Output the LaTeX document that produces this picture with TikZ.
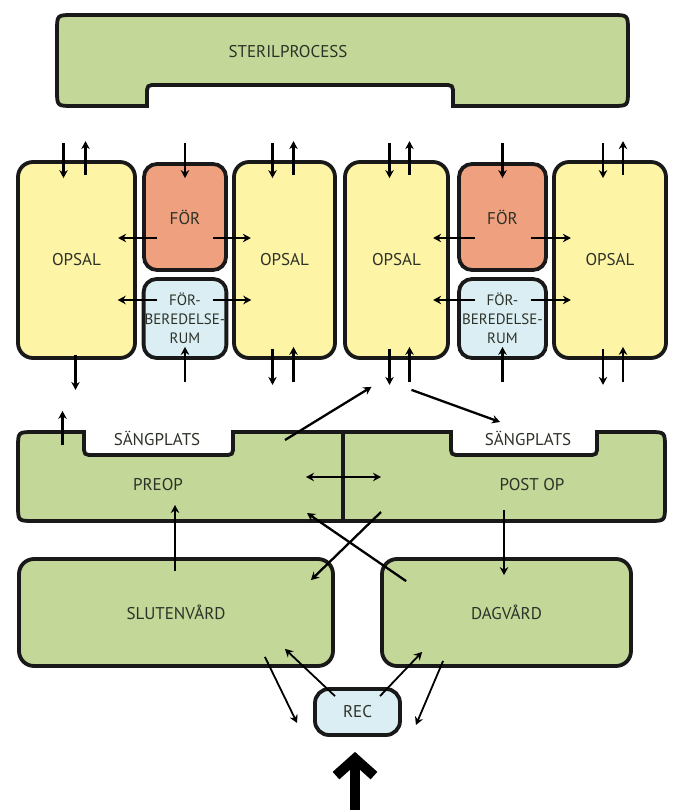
\documentclass[tikz,border=0pt]{standalone}
\usepackage{fontspec}
\setmainfont{PT Sans}
\usepackage{xcolor}
\definecolor{leafgreen}{RGB}{195,216,152}
\definecolor{paleyellow}{RGB}{253,244,166}
\definecolor{salmon}{RGB}{238,160,127}
\definecolor{iceblue}{RGB}{219,238,243}
\definecolor{inkgrey}{RGB}{45,50,40}
\usepackage{tikz}
\usetikzlibrary{arrows.meta,calc}
\tikzset{
  >={Stealth[length=8pt,width=8.5pt]},
  wall/.style={draw=black!90,line width=3.8pt},
  room/.style={wall,rectangle,rounded corners=15pt,font=\fontsize{17}{19}\selectfont,text=inkgrey},
  opsal/.style={room,fill=paleyellow,minimum height=196pt},
  prep/.style={room,fill=salmon,minimum height=106pt,rounded corners=13pt},
  prepare/.style={room,fill=iceblue,minimum height=79pt,rounded corners=13pt,align=center,inner sep=1pt,font=\fontsize{15}{19}\selectfont},
  ward/.style={room,fill=leafgreen,minimum height=107pt},
  tag/.style={font=\fontsize{17}{19}\selectfont,text=inkgrey},
  flow/.style={->,line width=2.3pt},
  thinflow/.style={->,line width=1.8pt}
}

\begin{document}
\begin{tikzpicture}[x=1pt,y=-1pt]
  \useasboundingbox (0,0) rectangle (674,810);

  % Sterilprocess
  \draw[wall,fill=leafgreen] (57,31) .. controls (57,15) .. (73,15) -- (612,15)
    .. controls (628,15) .. (628,31) -- (628,90) .. controls (628,106) .. (612,106)
    -- (453,106) -- (453,95) .. controls (453,85) .. (443,85) -- (157,85)
    .. controls (147,85) .. (147,95) -- (147,106) -- (73,106)
    .. controls (57,106) .. (57,90) -- cycle;
  \node[tag] (steril) at (288,52) {STERILPROCESS};

  % Operating rooms
  \node[opsal,minimum width=117pt] (opsalA) at (76.5,260) {OPSAL};
  \node[prep,minimum width=82pt] (forA) at (185,217) {FÖR};
  \node[prepare,minimum width=82pt] (forbA) at (185,318.5) {FÖR-\\BEREDELSE-\\RUM};
  \node[opsal,minimum width=101pt] (opsalB) at (284.5,260) {OPSAL};
  \node[opsal,minimum width=103pt] (opsalC) at (396.5,260) {OPSAL};
  \node[prep,minimum width=87pt] (forB) at (502.5,217) {FÖR};
  \node[prepare,minimum width=87pt] (forbB) at (502.5,318.5) {FÖR-\\BEREDELSE-\\RUM};
  \node[opsal,minimum width=112pt] (opsalD) at (610,260) {OPSAL};

  % Preop / post op
  \draw[wall,fill=leafgreen] (18,448) .. controls (18,432) .. (34,432) -- (84,432)
    -- (84,445) .. controls (84,455) .. (94,455) -- (223,455)
    .. controls (233,455) .. (233,445) -- (233,432) -- (451,432)
    -- (451,445) .. controls (451,455) .. (461,455) -- (587,455)
    .. controls (597,455) .. (597,445) -- (597,432) -- (649,432)
    .. controls (665,432) .. (665,448) -- (665,505) .. controls (665,521) .. (649,521)
    -- (34,521) .. controls (18,521) .. (18,505) -- cycle;
  \draw[wall] (343,432) -- (343,521);
  \node[tag] (bedA) at (157,438) {SÄNGPLATS};
  \node[tag] (bedB) at (528,438) {SÄNGPLATS};
  \node[tag] (preop) at (158,485) {PREOP};
  \node[tag] (postop) at (532,485) {POST OP};

  % Wards and reception
  \node[ward,minimum width=314pt] (sluten) at (176,612.5) {SLUTENVÅRD};
  \node[ward,minimum width=249pt] (dag) at (506.5,612.5) {DAGVÅRD};
  \node[room,fill=iceblue,minimum width=85pt,minimum height=46pt,rounded corners=14pt] (rec) at (357.5,712) {REC};
  \coordinate (entry) at (355,812);

  % In and out of the operating rooms
  \foreach \n/\a/\b in {opsalA/-13/9,opsalB/-12/9,opsalC/-7/13,opsalD/-7/13}{
    \draw[flow] ($(\n.north)+(\a,-17)$) -- ($(\n.north)+(\a,18)$);
    \draw[flow] ($(\n.north)+(\b,15)$) -- ($(\n.north)+(\b,-19)$);
  }
  \foreach \n/\a/\b in {opsalB/-12/9,opsalC/-7/13,opsalD/-7/13}{
    \draw[flow] ($(\n.south)+(\a,-11)$) -- ($(\n.south)+(\a,25)$);
    \draw[flow] ($(\n.south)+(\b,22)$) -- ($(\n.south)+(\b,-13)$);
  }
  \draw[flow] ($(opsalA.south)+(-1,-5)$) -- ($(opsalA.south)+(-1,30)$);
  \foreach \n in {forA,forB}
    \draw[flow] ($(\n.north)+(0,-19)$) -- ($(\n.north)+(0,16)$);
  \foreach \n in {forbA,forbB}
    \draw[flow] ($(\n.south)+(0,22)$) -- ($(\n.south)+(0,-13)$);
  \foreach \n/\d in {forA/21,forB/21,forbA/-18.5,forbB/-18.5}{
    \draw[flow] ($(\n.center)+(-28,\d)$) -- ($(\n.west)+(-24,\d)$);
    \draw[flow] ($(\n.center)+(28,\d)$) -- ($(\n.east)+(23,\d)$);
  }

  % Patient flow
  \draw[flow] ($(opsalA.south)+(-14,85)$) -- ($(opsalA.south)+(-14,51)$);
  \draw[flow] ($(preop)+(127,-45)$) -- ($(opsalC.south)+(-25,27)$);
  \draw[flow] ($(opsalC.south)+(15,30)$) -- ($(bedB)+(-28,-16)$);
  \draw[flow,<->] ($(preop)+(148,-8)$) -- ($(postop)+(-151,-8)$);
  \draw[flow] ($(postop)+(-151,27)$) -- ($(sluten.north east)+(-24,23)$);
  \draw[flow] ($(dag.north west)+(26,24)$) -- ($(preop)+(149,28)$);
  \draw[flow] ($(sluten.north)+(-1,14)$) -- ($(preop)+(17,20)$);
  \draw[flow] ($(postop)+(-28,25)$) -- ($(dag.north)+(-2.5,18)$);

  \draw[thinflow] ($(sluten.south east)+(-70,-11)$) -- ($(rec.west)+(-16,11)$);
  \draw[thinflow] ($(rec.north)+(-22.5,9)$) -- ($(sluten.south east)+(-50,-19)$);
  \draw[thinflow] ($(rec.north)+(22.5,9)$) -- ($(dag.south west)+(42,-16)$);
  \draw[thinflow] ($(dag.south west)+(63,-7)$) -- ($(rec.east)+(14,13)$);
  \draw[line width=10pt,-{Straight Barb[length=17pt,width=38pt]}] (entry) -- ($(rec.south)+(-2.5,15)$);
\end{tikzpicture}
\end{document}
